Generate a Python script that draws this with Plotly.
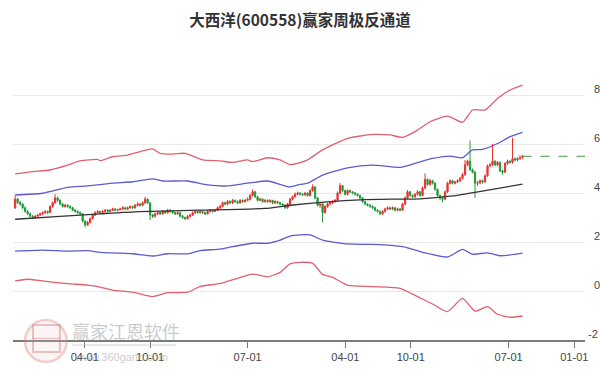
import pandas as pd
import plotly.graph_objects as go

title_text = "大西洋(600558)赢家周极反通道"

start_week = "2020-09-18"

o = [3.40,3.75,3.62,3.55,3.40,3.25,3.15,3.05,3.00,3.05,3.10,3.15,3.20,3.25,3.20,3.45,3.60,3.80,3.70,3.55,
     3.45,3.50,3.45,3.40,3.30,3.25,3.20,3.15,2.85,2.70,2.80,2.95,3.10,3.20,3.25,3.20,3.25,3.30,3.25,3.30,
     3.35,3.30,3.32,3.35,3.40,3.35,3.40,3.45,3.40,3.50,3.55,3.50,3.60,3.75,3.60,3.10,3.05,3.15,3.20,3.15,
     3.25,3.20,3.30,3.25,3.20,3.15,3.20,3.05,3.00,2.95,3.05,3.10,3.20,3.25,3.20,3.25,3.20,3.15,3.25,3.30,
     3.25,3.30,3.40,3.45,3.60,3.55,3.65,3.60,3.70,3.65,3.60,3.70,3.65,3.70,3.75,3.90,4.05,3.85,3.70,3.75,
     3.65,3.70,3.65,3.70,3.60,3.65,3.60,3.55,3.50,3.40,3.55,3.75,3.85,3.95,4.00,3.95,3.93,4.00,3.90,4.10,
     4.25,3.80,3.50,3.55,3.20,3.45,3.55,3.60,3.65,3.70,4.00,4.30,4.10,3.95,4.10,4.05,4.00,3.95,3.90,3.80,
     3.65,3.55,3.50,3.45,3.40,3.30,3.25,3.15,3.25,3.35,3.40,3.35,3.40,3.30,3.35,3.30,3.55,3.80,4.05,3.90,
     3.85,3.95,4.05,3.90,4.20,4.55,4.35,4.50,4.40,4.15,3.90,3.80,3.75,4.05,4.40,4.50,4.40,4.45,4.50,4.60,
     4.75,5.15,5.30,4.95,4.85,4.40,4.42,4.50,4.45,4.70,5.10,5.15,5.30,5.15,5.25,4.90,4.85,5.20,5.30,5.25,
     5.40,5.35,5.40,5.45]
h = [3.90,3.80,3.68,3.58,3.45,3.30,3.20,3.10,3.10,3.14,3.20,3.25,3.30,3.28,3.50,3.66,3.95,3.86,3.74,3.60,
     3.56,3.55,3.50,3.44,3.35,3.30,3.24,3.18,2.90,2.86,3.00,3.15,3.25,3.30,3.28,3.30,3.35,3.34,3.35,3.40,
     3.38,3.36,3.40,3.46,3.44,3.45,3.50,3.48,3.55,3.62,3.60,3.66,3.85,3.78,3.62,3.15,3.20,3.25,3.24,3.30,
     3.28,3.35,3.34,3.28,3.24,3.25,3.22,3.10,3.04,3.10,3.15,3.25,3.30,3.28,3.30,3.28,3.24,3.30,3.35,3.34,
     3.35,3.45,3.52,3.66,3.65,3.72,3.70,3.76,3.74,3.70,3.75,3.74,3.76,3.82,3.96,4.15,4.08,3.88,3.80,3.78,
     3.75,3.74,3.75,3.72,3.70,3.68,3.64,3.58,3.54,3.60,3.80,3.90,4.02,4.06,4.04,4.00,4.05,4.02,4.15,4.35,
     4.28,3.84,3.62,3.58,3.50,3.60,3.66,3.70,3.76,4.06,4.40,4.32,4.14,4.15,4.14,4.08,4.04,3.98,3.94,3.84,
     3.68,3.58,3.54,3.50,3.44,3.34,3.28,3.30,3.40,3.45,3.44,3.45,3.42,3.40,3.38,3.60,3.86,4.12,4.08,3.94,
     4.00,4.12,4.08,4.26,4.80,4.60,4.58,4.54,4.44,4.18,3.94,3.85,4.10,4.46,4.56,4.54,4.50,4.56,4.66,4.82,
     5.35,5.36,6.15,5.00,4.90,4.50,4.56,4.55,4.76,5.16,5.22,6.00,5.34,5.30,5.28,4.95,5.26,5.36,5.34,6.25,
     5.45,5.46,5.55,5.55]
l = [3.35,3.55,3.48,3.35,3.20,3.10,3.00,2.95,2.96,3.00,3.06,3.10,3.15,3.14,3.18,3.40,3.56,3.64,3.50,3.40,
     3.40,3.40,3.35,3.26,3.20,3.15,3.10,2.80,2.60,2.66,2.76,2.92,3.06,3.15,3.15,3.16,3.20,3.20,3.22,3.26,
     3.25,3.24,3.28,3.30,3.30,3.30,3.36,3.35,3.36,3.45,3.45,3.46,3.55,3.55,2.90,2.98,3.00,3.10,3.10,3.12,
     3.15,3.16,3.20,3.15,3.10,3.10,3.00,2.95,2.90,2.92,3.00,3.06,3.15,3.15,3.16,3.15,3.10,3.12,3.20,3.20,
     3.22,3.26,3.35,3.42,3.50,3.50,3.55,3.55,3.60,3.55,3.56,3.60,3.60,3.66,3.70,3.86,3.80,3.65,3.66,3.60,
     3.60,3.60,3.60,3.55,3.55,3.55,3.50,3.45,3.35,3.36,3.50,3.70,3.80,3.90,3.90,3.88,3.88,3.85,3.86,4.05,
     3.75,3.45,3.40,2.80,3.15,3.40,3.50,3.55,3.60,3.66,3.95,4.05,3.90,3.90,4.00,3.95,3.90,3.85,3.75,3.60,
     3.50,3.45,3.40,3.35,3.25,3.20,3.10,3.10,3.20,3.30,3.30,3.30,3.25,3.25,3.25,3.28,3.50,3.76,3.85,3.80,
     3.80,3.90,3.85,3.86,4.15,4.30,4.30,4.35,4.10,3.85,3.70,3.62,3.72,4.00,4.35,4.35,4.35,4.40,4.45,4.55,
     4.70,5.10,4.90,4.80,3.80,4.30,4.36,4.38,4.42,4.66,5.05,5.10,5.10,5.10,4.85,4.75,4.82,5.15,5.20,5.20,
     5.30,5.30,5.36,5.40]
c = [3.75,3.62,3.55,3.40,3.25,3.15,3.05,3.00,3.05,3.10,3.15,3.20,3.25,3.20,3.45,3.60,3.80,3.70,3.55,3.45,
     3.50,3.45,3.40,3.30,3.25,3.20,3.15,2.85,2.70,2.80,2.95,3.10,3.20,3.25,3.20,3.25,3.30,3.25,3.30,3.35,
     3.30,3.32,3.35,3.40,3.35,3.40,3.45,3.40,3.50,3.55,3.50,3.60,3.75,3.60,3.10,3.05,3.15,3.20,3.15,3.25,
     3.20,3.30,3.25,3.20,3.15,3.20,3.05,3.00,2.95,3.05,3.10,3.20,3.25,3.20,3.25,3.20,3.15,3.25,3.30,3.25,
     3.30,3.40,3.45,3.60,3.55,3.65,3.60,3.70,3.65,3.60,3.70,3.65,3.70,3.75,3.90,4.05,3.85,3.70,3.75,3.65,
     3.70,3.65,3.70,3.60,3.65,3.60,3.55,3.50,3.40,3.55,3.75,3.85,3.95,4.00,3.95,3.93,4.00,3.90,4.10,4.25,
     3.80,3.50,3.55,3.20,3.45,3.55,3.60,3.65,3.70,4.00,4.30,4.10,3.95,4.10,4.05,4.00,3.95,3.90,3.80,3.65,
     3.55,3.50,3.45,3.40,3.30,3.25,3.15,3.25,3.35,3.40,3.35,3.40,3.30,3.35,3.30,3.55,3.80,4.05,3.90,3.85,
     3.95,4.05,3.90,4.20,4.55,4.35,4.50,4.40,4.15,3.90,3.80,3.75,4.05,4.40,4.50,4.40,4.45,4.50,4.60,4.75,
     5.15,5.30,4.95,4.85,4.40,4.42,4.50,4.45,4.70,5.10,5.15,5.30,5.15,5.25,4.90,4.85,5.20,5.30,5.25,5.40,
     5.35,5.40,5.45,5.50]

# channel lines: (week index, value)
up_red_idx = [0,7,14,21,26,33,34,39,45,50,55,58,63,68,75,82,87,93,95,101,106,110,114,117,123,133,143,150,155,161,166,173,179,183,188,193,198,203]
up_red_val = [4.78,4.87,4.94,5.14,5.31,5.37,5.32,5.48,5.55,5.69,5.80,5.62,5.59,5.62,5.35,5.31,5.25,5.35,5.28,5.44,5.35,5.16,5.24,5.35,5.76,6.23,6.39,6.37,6.27,6.57,6.91,7.14,6.89,7.39,7.39,7.86,8.20,8.40]
up_blue_idx = [0,11,21,29,39,47,55,59,69,77,85,93,101,110,114,117,123,133,143,154,161,167,174,179,183,187,193,198,203]
up_blue_val = [3.92,3.99,4.23,4.29,4.40,4.46,4.58,4.49,4.49,4.33,4.29,4.40,4.49,4.25,4.35,4.40,4.73,5.03,5.14,5.05,5.24,5.41,5.51,5.44,5.76,5.78,6.02,6.30,6.48]
mid_idx = [0,18,34,50,74,100,111,125,138,150,162,175,188,203]
mid_val = [2.93,3.05,3.15,3.24,3.30,3.37,3.51,3.64,3.72,3.75,3.76,3.88,4.10,4.36]
lo_blue_idx = [0,11,21,29,34,41,47,55,61,69,74,82,87,95,101,106,110,114,118,123,133,143,155,163,173,179,183,189,194,203]
lo_blue_val = [1.63,1.67,1.63,1.65,1.58,1.55,1.52,1.43,1.52,1.52,1.65,1.71,1.81,1.95,1.95,2.08,2.24,2.29,2.29,2.08,1.92,1.90,1.81,1.58,1.39,1.70,1.50,1.56,1.44,1.55]
lo_red_idx = [0,5,11,21,29,34,39,47,55,61,69,74,82,89,95,101,106,110,114,119,123,127,133,143,154,161,167,173,179,184,189,193,198,203]
lo_red_val = [0.41,0.48,0.41,0.30,0.24,0.16,0.04,-0.05,-0.23,-0.07,-0.05,0.18,0.31,0.52,0.69,0.58,0.76,1.11,1.17,1.13,0.68,0.56,0.24,0.18,0.11,-0.23,-0.53,-0.84,-0.30,-0.82,-0.64,-0.95,-1.07,-1.02]

last_line_end = "2025-02-08"

tick_dates = ["2021-04-01","2021-10-01","2022-07-01","2023-04-01","2023-10-01","2024-07-01","2025-01-01"]
tick_labels = ["04-01","10-01","07-01","04-01","10-01","07-01","01-01"]
y_ticks = [-2, 0, 2, 4, 6, 8]
y_tick_labels = ["-2", "\u20070", "\u20072", "\u20074", "\u20076", "\u20078"]

dates = pd.date_range(start_week, periods=len(c), freq="7D")

RED = "#e8302c"
GREEN = "#1f9a3a"
BAND_RED = "#e0606e"
BAND_BLUE = "#5b5bd2"

fig = go.Figure()

def band(idx, val, color, width=1.3):
    fig.add_trace(go.Scatter(x=[dates[i] for i in idx], y=val, mode="lines",
                             line=dict(color=color, width=width, shape="spline", smoothing=0.6),
                             hoverinfo="skip"))

band(up_red_idx, up_red_val, BAND_RED)
band(up_blue_idx, up_blue_val, BAND_BLUE)
band(mid_idx, mid_val, "#333333", 1.3)
band(lo_blue_idx, lo_blue_val, BAND_BLUE)
band(lo_red_idx, lo_red_val, BAND_RED)

fig.add_trace(go.Candlestick(
    x=dates, open=o, high=h, low=l, close=c,
    increasing=dict(line=dict(color=RED, width=1), fillcolor=RED),
    decreasing=dict(line=dict(color=GREEN, width=1), fillcolor=GREEN),
    whiskerwidth=0,
))

fig.add_trace(go.Scatter(x=[dates[-1], pd.Timestamp(last_line_end)], y=[c[-1], c[-1]],
                         mode="lines", line=dict(color="#3a9a3a", width=1, dash="dash"),
                         hoverinfo="skip", cliponaxis=False))

# watermark (logo + text)
fig.add_shape(type="circle", xref="paper", yref="paper",
              x0=0.021, x1=0.094, y0=-0.079, y1=0.071,
              line=dict(color="rgba(215,120,120,0.35)", width=2.5),
              fillcolor="rgba(240,205,205,0.2)")
fig.add_shape(type="rect", xref="paper", yref="paper",
              x0=0.035, x1=0.082, y0=-0.043, y1=0.054,
              line=dict(color="rgba(205,110,110,0.4)", width=2))
fig.add_shape(type="line", xref="paper", yref="paper",
              x0=0.035, x1=0.082, y0=0.0055, y1=0.0055,
              line=dict(color="rgba(205,110,110,0.35)", width=1.5))
fig.add_shape(type="line", xref="paper", yref="paper",
              x0=0.1026, x1=0.285, y0=-0.018, y1=-0.018,
              line=dict(color="rgba(170,170,170,0.35)", width=1.5))
fig.add_annotation(text="赢家江恩软件", xref="paper", yref="paper", x=0.1, y=0.032,
                   xanchor="left", yanchor="middle", showarrow=False,
                   font=dict(size=18, color="rgba(150,150,150,0.5)", family="Noto Sans CJK SC"))
fig.add_annotation(text="www.360gann.com", xref="paper", yref="paper", x=0.1026, y=-0.061,
                   xanchor="left", yanchor="middle", showarrow=False,
                   font=dict(size=11, color="rgba(150,150,150,0.5)", family="Liberation Sans"))

fig.update_layout(
    width=600, height=371,
    margin=dict(l=13, r=15, t=60, b=31, autoexpand=False),
    paper_bgcolor="white", plot_bgcolor="white",
    showlegend=False,
    title=dict(text="<b>" + title_text + "</b>", x=0.5, xanchor="center", y=0.945, yanchor="middle",
               font=dict(size=15.5, color="#333333", family="Noto Sans CJK SC")),
    xaxis=dict(type="date", range=["2020-09-12", "2025-01-31"], automargin=False,
               tickvals=tick_dates, ticktext=tick_labels,
               showgrid=False, showline=True, linecolor="#7a7a7a", linewidth=1.5,
               ticks="outside", ticklen=6, tickcolor="#7a7a7a", tickwidth=1,
               tickfont=dict(size=11, color="#444444", family="Liberation Sans"),
               rangeslider=dict(visible=False), fixedrange=True),
    yaxis=dict(side="right", range=[-2, 9.43], tickvals=y_ticks, ticktext=y_tick_labels,
               automargin=False,
               showgrid=True, gridcolor="#e8e8e8", gridwidth=1, zeroline=False,
               showline=False, ticks="", ticklabelshift=-6, ticklabelstandoff=2,
               tickfont=dict(size=11, color="#444444", family="Liberation Sans")),
)

fig.write_html("out.html")
